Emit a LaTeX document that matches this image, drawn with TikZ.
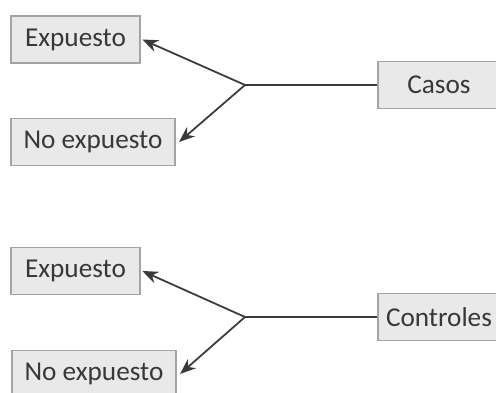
\documentclass[tikz,border=0pt]{standalone}
\usepackage{fontspec}
\setmainfont{Carlito}
\usetikzlibrary{arrows.meta}
\definecolor{cajafondo}{HTML}{E9E9E9}
\definecolor{cajaborde}{HTML}{A4A4A4}
\definecolor{linea}{HTML}{3A3A3A}

\begin{document}
\begin{tikzpicture}[
  caja/.style={draw=cajaborde, fill=cajafondo, line width=0.6pt, minimum height=0.94cm, inner sep=0pt, text=black!78, font=\fontsize{15.5}{18}\selectfont},
  flecha/.style={-{Stealth[length=9pt,width=7pt]}, draw=linea, line width=1pt},
  rama/.style={draw=linea, line width=1pt}
]
\useasboundingbox (0,0) rectangle (9.92,-7.86);

% casos
\node [caja, minimum width=2.58cm] (exp1) at (1.51,-0.79) {Expuesto};
\node [caja, minimum width=3.28cm] (noexp1) at (1.86,-2.84) {No expuesto};
\node [caja, minimum width=2.44cm] (casos) at (8.78,-1.70) {Casos};
\coordinate (j1) at (4.90,-1.70);
\draw [rama] (casos.west) -- (j1);
\draw [flecha] (j1) -- ([xshift=1pt]exp1.east);
\draw [flecha] (j1) -- ([xshift=2pt]noexp1.east);

% controles
\node [caja, minimum width=2.58cm] (exp2) at (1.51,-5.42) {Expuesto};
\node [caja, minimum width=3.28cm] (noexp2) at (1.88,-7.48) {No expuesto};
\node [caja, minimum width=2.44cm] (controles) at (8.78,-6.34) {Controles};
\coordinate (j2) at (4.90,-6.34);
\draw [rama] (controles.west) -- (j2);
\draw [flecha] (j2) -- ([xshift=1pt]exp2.east);
\draw [flecha] (j2) -- ([xshift=2pt]noexp2.east);
\end{tikzpicture}
\end{document}
